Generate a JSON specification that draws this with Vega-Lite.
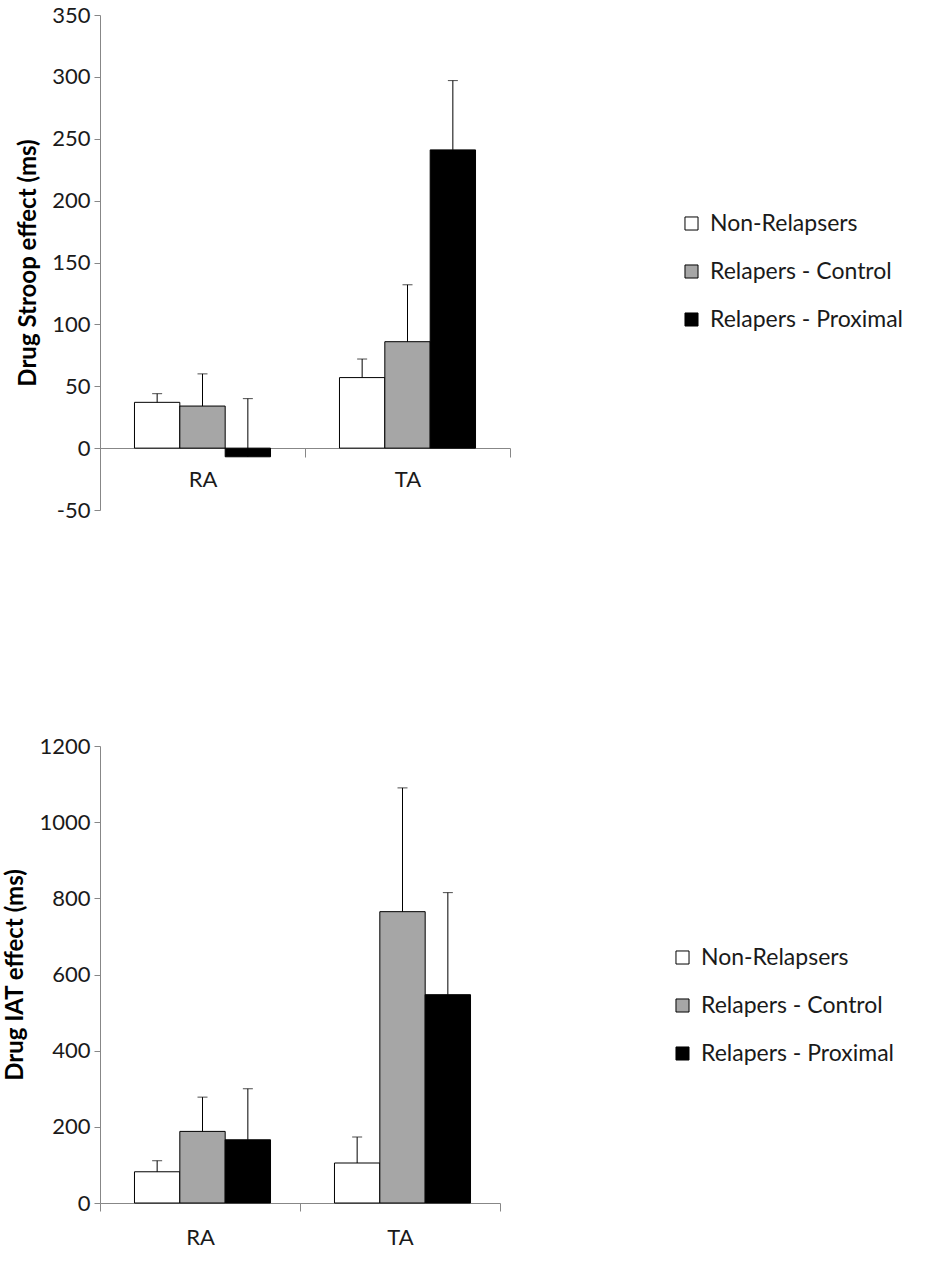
{
  "$schema": "https://vega.github.io/schema/vega-lite/v6.json",
  "padding": {"left": 3, "top": 4, "right": 5, "bottom": 5},
  "background": "white",
  "config": {
    "font": "Lato",
    "view": {"stroke": null},
    "axis": {"domainColor": "#878787", "tickColor": "#878787", "labelColor": "#1a1a1a", "titleColor": "#000000", "labelFont": "Lato", "titleFont": "Lato", "grid": false},
    "legend": {"labelFont": "Lato", "labelColor": "#1a1a1a", "labelLimit": 0}
  },
  "spacing": 214,
  "resolve": {"legend": {"fill": "independent"}, "scale": {"fill": "independent"}},
  "vconcat": [
    {
      "width": 410,
      "height": 495,
      "data": {"values": [
        {"cond": "RA", "group": "Non-Relapsers", "mean": 37, "upper": 44},
        {"cond": "RA", "group": "Relapers - Control", "mean": 34, "upper": 60},
        {"cond": "RA", "group": "Relapers - Proximal", "mean": -7, "upper": 40},
        {"cond": "TA", "group": "Non-Relapsers", "mean": 57, "upper": 72},
        {"cond": "TA", "group": "Relapers - Control", "mean": 86, "upper": 132},
        {"cond": "TA", "group": "Relapers - Proximal", "mean": 241, "upper": 297}
      ]},
      "encoding": {
        "x": {"field": "cond", "type": "nominal", "scale": {"paddingInner": 0, "paddingOuter": 0},
          "axis": {"title": null, "labelAngle": 0, "labelFontSize": 22, "tickBand": "extent", "tickSize": 9, "labelPadding": 12, "offset": -62, "domainWidth": 1}},
        "xOffset": {"field": "group", "type": "nominal", "scale": {"paddingInner": 0, "paddingOuter": 0.76}}
      },
      "layer": [
        {
          "mark": {"type": "bar", "stroke": "black", "strokeWidth": 1},
          "encoding": {
            "y": {"field": "mean", "type": "quantitative", "scale": {"domain": [-50, 350], "nice": false},
              "axis": {"title": "Drug Stroop effect (ms)", "titleFontSize": 24, "titleFontWeight": "bold", "labelFontSize": 22, "values": [-50, 0, 50, 100, 150, 200, 250, 300, 350], "labelExpr": "'' + datum.value", "tickSize": 6, "labelPadding": 4, "titlePadding": 11}},
            "fill": {"field": "group", "type": "nominal",
              "scale": {"domain": ["Non-Relapsers", "Relapers - Control", "Relapers - Proximal"], "range": ["#ffffff", "#a6a6a6", "#000000"]},
              "legend": {"title": null, "orient": "none", "legendX": 580, "legendY": 197, "symbolType": "square", "symbolSize": 170, "symbolStrokeColor": "black", "symbolStrokeWidth": 1, "labelFontSize": 23, "rowPadding": 24, "labelOffset": 7}}
          }
        },
        {
          "mark": {"type": "rule", "color": "black", "strokeWidth": 1},
          "encoding": {"y": {"field": "mean", "type": "quantitative"}, "y2": {"field": "upper"}}
        },
        {
          "mark": {"type": "tick", "color": "black", "thickness": 1, "size": 10},
          "encoding": {"y": {"field": "upper", "type": "quantitative"}}
        }
      ]
    },
    {
      "width": 400,
      "height": 457,
      "data": {"values": [
        {"cond": "RA", "group": "Non-Relapsers", "mean": 82, "upper": 111},
        {"cond": "RA", "group": "Relapers - Control", "mean": 188, "upper": 278},
        {"cond": "RA", "group": "Relapers - Proximal", "mean": 166, "upper": 300},
        {"cond": "TA", "group": "Non-Relapsers", "mean": 105, "upper": 173},
        {"cond": "TA", "group": "Relapers - Control", "mean": 765, "upper": 1090},
        {"cond": "TA", "group": "Relapers - Proximal", "mean": 547, "upper": 815}
      ]},
      "encoding": {
        "x": {"field": "cond", "type": "nominal", "scale": {"paddingInner": 0, "paddingOuter": 0},
          "axis": {"title": null, "labelAngle": 0, "labelFontSize": 22, "tickBand": "extent", "tickSize": 8, "labelPadding": 16, "domainWidth": 1}},
        "xOffset": {"field": "group", "type": "nominal", "scale": {"paddingInner": 0, "paddingOuter": 0.76}}
      },
      "layer": [
        {
          "mark": {"type": "bar", "stroke": "black", "strokeWidth": 1},
          "encoding": {
            "y": {"field": "mean", "type": "quantitative", "scale": {"domain": [0, 1200], "nice": false},
              "axis": {"title": "Drug IAT effect (ms)", "titleFontSize": 24, "titleFontWeight": "bold", "labelFontSize": 22, "values": [0, 200, 400, 600, 800, 1000, 1200], "labelExpr": "'' + datum.value", "tickSize": 6, "labelPadding": 4, "titlePadding": 11}},
            "fill": {"field": "group", "type": "nominal",
              "scale": {"domain": ["Non-Relapsers", "Relapers - Control", "Relapers - Proximal"], "range": ["#ffffff", "#a6a6a6", "#000000"]},
              "legend": {"title": null, "orient": "none", "legendX": 571, "legendY": 200, "symbolType": "square", "symbolSize": 170, "symbolStrokeColor": "black", "symbolStrokeWidth": 1, "labelFontSize": 23, "rowPadding": 24, "labelOffset": 7}}
          }
        },
        {
          "mark": {"type": "rule", "color": "black", "strokeWidth": 1},
          "encoding": {"y": {"field": "mean", "type": "quantitative"}, "y2": {"field": "upper"}}
        },
        {
          "mark": {"type": "tick", "color": "black", "thickness": 1, "size": 10},
          "encoding": {"y": {"field": "upper", "type": "quantitative"}}
        }
      ]
    }
  ]
}
